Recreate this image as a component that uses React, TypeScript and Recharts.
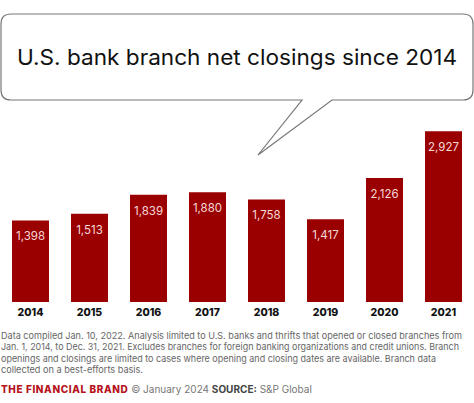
import React from "react";
import { BarChart, Bar, XAxis, YAxis, LabelList } from "recharts";

const years = ["2014", "2015", "2016", "2017", "2018", "2019", "2020", "2021"];
const closings = [1398, 1513, 1839, 1880, 1758, 1417, 2126, 2927];
const title = "U.S. bank branch net closings since 2014";
const noteLines = [
  "Data compiled Jan. 10, 2022. Analysis limited to U.S. banks and thrifts that opened or closed branches from",
  "Jan. 1, 2014, to Dec. 31, 2021. Excludes branches for foreign banking organizations and credit unions. Branch",
  "openings and closings are limited to cases where opening and closing dates are available. Branch data",
  "collected on a best-efforts basis.",
];
const noteWidths = [461, 458, 435, 142];
const brand = "THE FINANCIAL BRAND";
const dateText = " © January 2024 ";
const sourceLabel = "SOURCE:";
const sourceText = " S&P Global";

const data = years.map((y, i) => ({ year: y, value: closings[i] }));

const FONT = "Inter, 'Noto Sans', sans-serif";

const ValueLabel = (props: any) => {
  const { x, y, width, value } = props;
  return (
    <text
      x={x + width / 2}
      y={y + 16}
      textAnchor="middle"
      dominantBaseline="central"
      fill="#f6dada"
      fontSize={11.5}
      fontFamily={FONT}
    >
      {Number(value).toLocaleString("en-US")}
    </text>
  );
};

const YearTick = (props: any) => {
  const { x, y, payload } = props;
  return (
    <text
      x={x}
      y={y + 14}
      textAnchor="middle"
      fill="#111"
      fontSize={10.5}
      fontWeight={800}
      fontFamily={FONT}
    >
      {payload.value}
    </text>
  );
};

export default function App() {
  return (
    <div style={{ position: "absolute", left: 0, top: 0, width: 474, height: 403, background: "#fff", overflow: "hidden" }}>
      <BarChart
        width={474}
        height={403}
        data={data}
        margin={{ top: 127, right: 1, left: 1, bottom: 81 }}
      >
        <YAxis hide domain={[0, 3000]} />
        <XAxis
          dataKey="year"
          axisLine={false}
          tickLine={false}
          tickSize={0}
          tickMargin={0}
          height={20}
          interval={0}
          tick={<YearTick />}
        />
        <Bar dataKey="value" fill="#9a0000" barSize={37} isAnimationActive={false}>
          <LabelList dataKey="value" content={<ValueLabel />} />
        </Bar>
      </BarChart>
      <svg width={474} height={403} style={{ position: "absolute", left: 0, top: 0, pointerEvents: "none" }}>
        <path
          d="M 11 14 H 463 Q 473 14 473 24 V 90 Q 473 100 463 100 H 332 L 258 155 L 302 100 H 11 Q 1 100 1 90 V 24 Q 1 14 11 14 Z"
          fill="#fff"
          stroke="#777"
          strokeWidth={1.2}
        />
        <text
          x={17}
          y={65}
          fontSize={21.5}
          fill="#111"
          fontFamily={FONT}
          textLength={440}
          lengthAdjust="spacingAndGlyphs"
        >
          {title}
        </text>
        {noteLines.map((line, i) => (
          <text
            key={i}
            x={1}
            y={338.5 + i * 11.5}
            fontSize={9.2}
            fill="#666"
            fontFamily={FONT}
            textLength={noteWidths[i]}
            lengthAdjust="spacingAndGlyphs"
          >
            {line}
          </text>
        ))}
        <text x={1} y={393} fontSize={10} fontFamily={FONT}>
          <tspan fill="#b5121b" fontWeight={800} letterSpacing={0.6}>{brand}</tspan>
          <tspan fill="#777">{dateText}</tspan>
          <tspan fill="#444" fontWeight={700}>{sourceLabel}</tspan>
          <tspan fill="#777">{sourceText}</tspan>
        </text>
      </svg>
    </div>
  );
}
